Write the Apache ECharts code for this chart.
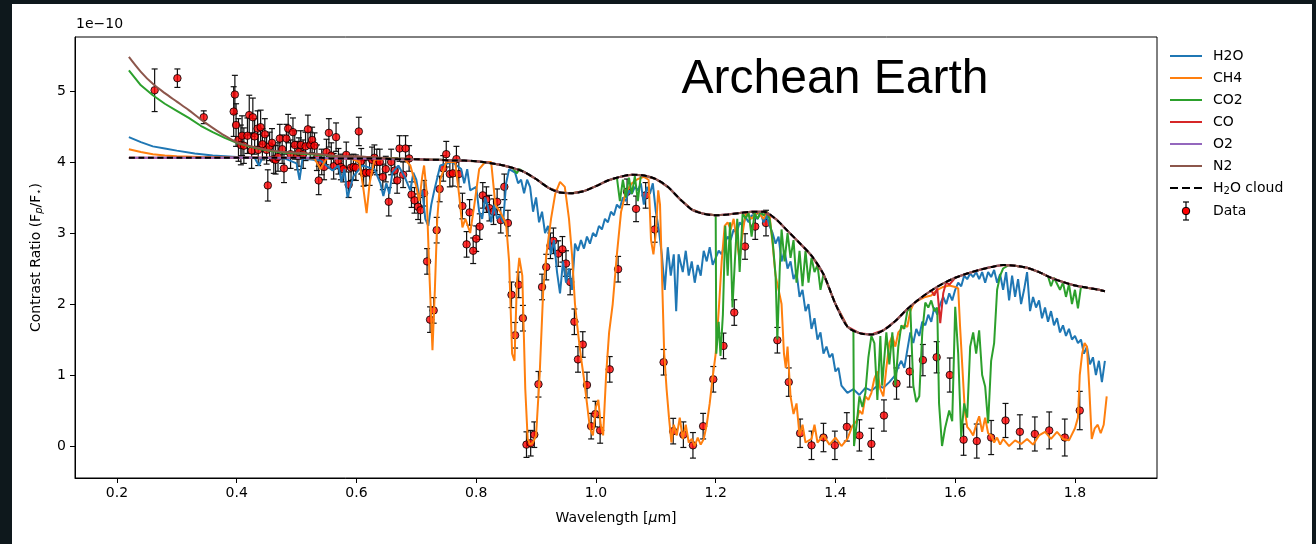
<!DOCTYPE html>
<html>
<head>
<meta charset="utf-8">
<script src="https://cdn.jsdelivr.net/npm/echarts@6.0.0/dist/echarts.min.js"></script>
<style>
  html, body { margin: 0; padding: 0; background: #0e181c; overflow: hidden; }
  #paper { position: absolute; left: 12px; top: 4px; width: 1300px; height: 540px; background: #fff; }
  #main { position: absolute; left: 0; top: 0; width: 1316px; height: 544px; }
</style>
</head>
<body>
<div id="paper"></div>
<div id="main"></div>
<script>
// values in units of 1e-10, wavelength in micron
const xTicks = [0.2, 0.4, 0.6, 0.8, 1.0, 1.2, 1.4, 1.6, 1.8];
const yTicks = [0, 1, 2, 3, 4, 5];

// smooth continuum grid (cloud, O2, N2)
const contWl = [0.22,0.24,0.26,0.28,0.30,0.32,0.34,0.36,0.38,0.40,
  0.42,0.44,0.46,0.48,0.50,0.52,0.54,0.56,0.58,0.60,0.62,0.64,0.66,0.68,0.70,
  0.72,0.74,0.76,0.78,0.80,0.82,0.84,0.86,0.88,0.90,0.92,0.94,0.96,0.98,1.00,
  1.02,1.04,1.06,1.08,1.10,1.12,1.14,1.16,1.18,1.20,1.22,1.24,1.26,1.28,1.30,
  1.32,1.34,1.36,1.38,1.40,1.42,1.44,1.46,1.48,1.50,1.52,1.54,1.56,1.58,1.60,
  1.62,1.64,1.66,1.68,1.70,1.72,1.74,1.76,1.78,1.80,1.82,1.84,1.85];

const cloudVal = [4.06,4.06,4.06,4.06,4.06,4.06,4.06,4.06,4.06,4.06,
  4.06,4.06,4.06,4.06,4.06,4.06,4.06,4.05,4.05,4.05,4.05,4.05,4.04,4.04,4.04,
  4.03,4.03,4.02,4.02,4.01,3.99,3.96,3.92,3.86,3.76,3.64,3.57,3.56,3.59,3.66,
  3.74,3.79,3.82,3.81,3.76,3.65,3.48,3.33,3.27,3.25,3.26,3.28,3.30,3.30,3.20,
  3.03,2.86,2.68,2.42,2.00,1.68,1.59,1.57,1.63,1.76,1.93,2.07,2.19,2.29,2.37,
  2.43,2.48,2.52,2.55,2.54,2.51,2.45,2.37,2.31,2.26,2.23,2.20,2.18];

const o2Val = [4.06,4.06,4.06,4.06,4.06,4.06,4.06,4.06,4.06,4.06,
  4.06,4.06,4.06,4.06,4.06,4.06,4.06,4.05,4.05,4.05,4.05,4.05,4.04,4.04,4.04,
  4.03,4.03,4.02,4.02,4.01,3.99,3.96,3.92,3.86,3.76,3.64,3.57,3.56,3.59,3.66,
  3.74,3.79,3.82,3.81,3.76,3.65,3.48,3.33,3.27,3.25,3.26,3.28,3.30,3.30,3.20,
  3.03,2.86,2.68,2.42,2.00,1.68,1.59,1.57,1.63,1.76,1.93,2.07,2.19,2.29,2.37,
  2.43,2.48,2.52,2.55,2.54,2.51,2.45,2.37,2.31,2.26,2.23,2.20,2.18];

const n2Val = [5.48,5.27,5.10,4.97,4.85,4.73,4.60,4.48,4.37,4.28,
  4.23,4.19,4.16,4.14,4.13,4.12,4.11,4.09,4.08,4.08,4.07,4.06,4.05,4.05,4.04,
  4.03,4.03,4.02,4.02,4.01,3.99,3.96,3.92,3.86,3.76,3.64,3.57,3.56,3.59,3.66,
  3.74,3.79,3.82,3.81,3.76,3.65,3.48,3.33,3.27,3.25,3.26,3.28,3.30,3.30,3.20,
  3.03,2.86,2.68,2.42,2.00,1.68,1.59,1.57,1.63,1.76,1.93,2.07,2.19,2.29,2.37,
  2.43,2.48,2.52,2.55,2.54,2.51,2.45,2.37,2.31,2.26,2.23,2.20,2.18];

const coWl = [0.22,0.30,0.40,0.50,0.60,0.70,0.80,0.82,0.84,0.86,0.88,0.90,0.92,0.94,0.96,0.98,1.00,
  1.02,1.04,1.06,1.08,1.10,1.12,1.14,1.16,1.18,1.20,1.22,1.24,1.26,1.28,1.30,
  1.32,1.34,1.36,1.38,1.40,1.42,1.44,1.46,1.48,1.50,1.52,1.54,1.56,1.565,1.57,1.575,1.58,1.585,1.59,1.60,
  1.62,1.64,1.66,1.68,1.70,1.72,1.74,1.76,1.78,1.80,1.82,1.84,1.85];
const coVal = [4.06,4.06,4.06,4.06,4.05,4.04,4.01,3.99,3.96,3.92,3.86,3.76,3.64,3.57,3.56,3.59,3.66,
  3.74,3.79,3.82,3.81,3.76,3.65,3.48,3.33,3.27,3.25,3.26,3.28,3.30,3.30,3.20,
  3.03,2.86,2.68,2.42,2.00,1.68,1.59,1.57,1.63,1.76,1.93,2.07,2.19,2.12,2.22,1.73,2.15,2.31,2.27,2.37,
  2.43,2.48,2.52,2.55,2.54,2.51,2.45,2.37,2.31,2.26,2.23,2.20,2.18];

const h2oWl = [0.22,0.24,0.26,0.28,0.30,0.33,0.36,0.40,0.43,0.437,0.443,0.48,0.50,0.505,0.51,0.54,0.55,0.56,0.57,0.575,
  0.58,0.585,0.59,0.595,0.61,0.63,0.64,0.645,0.65,0.655,0.66,0.67,0.68,0.69,0.695,0.70,0.705,0.71,0.715,0.72,
  0.725,0.73,0.74,0.76,0.775,0.78,0.785,0.79,0.80,0.805,0.81,0.815,0.82,0.825,0.83,0.835,0.84,0.845,0.85,0.855,
  0.865,0.87,0.875,0.88,0.885,0.89,0.895,0.90,0.905,0.91,0.915,0.92,0.925,0.93,0.935,0.94,0.945,0.95,0.955,0.96,
  0.965,0.97,0.975,0.98,0.985,0.99,0.995,1.00,1.005,1.01,1.015,1.02,1.025,1.03,1.035,1.04,1.045,1.05,1.055,1.06,
  1.065,1.07,1.075,1.08,1.085,1.09,1.095,1.10,1.105,1.11,1.115,1.12,1.125,1.13,1.134,1.138,1.145,1.15,1.155,1.16,
  1.165,1.17,1.175,1.18,1.185,1.19,1.195,1.20,1.205,1.21,1.215,1.22,1.225,1.23,1.235,1.24,1.245,1.25,1.255,1.26,
  1.27,1.275,1.28,1.285,1.29,1.295,1.30,1.305,1.31,1.315,1.32,1.325,1.33,1.335,1.34,1.345,1.35,1.355,1.36,1.365,
  1.37,1.375,1.38,1.385,1.39,1.395,1.40,1.405,1.41,1.415,1.42,1.43,1.44,1.45,1.46,1.47,1.48,1.49,1.50,1.505,
  1.51,1.515,1.52,1.525,1.53,1.535,1.54,1.545,1.55,1.555,1.56,1.565,1.57,1.575,1.58,1.585,1.59,1.595,1.60,1.605,
  1.61,1.615,1.62,1.625,1.63,1.635,1.64,1.645,1.65,1.655,1.66,1.665,1.67,1.675,1.68,1.685,1.69,1.695,1.70,1.705,
  1.71,1.715,1.72,1.725,1.73,1.735,1.74,1.745,1.75,1.755,1.76,1.765,1.77,1.775,1.78,1.785,1.79,1.795,1.80,1.805,
  1.81,1.815,1.82,1.825,1.83,1.835,1.84,1.845,1.85];
const h2oVal = [4.35,4.28,4.22,4.19,4.16,4.12,4.09,4.07,4.06,3.95,4.06,4.05,3.98,3.75,4.05,4.02,3.95,3.88,3.95,3.72,
  3.90,3.50,3.65,3.80,3.95,3.90,3.70,3.52,3.70,3.55,3.85,3.95,3.80,3.60,3.85,3.75,3.50,3.60,3.20,3.10,
  3.40,3.60,3.95,4.00,3.90,3.70,3.90,3.60,3.65,3.30,3.20,3.50,3.35,3.15,3.40,3.20,3.25,3.15,3.70,3.90,
  3.85,3.70,3.75,3.56,3.75,3.65,3.30,3.50,3.15,3.30,3.00,3.10,2.70,2.90,2.45,2.15,2.60,2.30,2.50,2.20,
  2.85,2.75,2.90,2.78,2.95,2.85,3.00,2.95,3.10,3.05,3.20,3.15,3.30,3.25,3.40,3.35,3.50,3.45,3.60,3.55,
  3.65,3.60,3.70,3.40,3.65,3.55,3.70,3.30,3.05,2.70,2.20,2.80,2.40,2.70,1.90,2.70,2.45,2.75,2.40,2.60,
  2.30,2.55,2.40,2.75,2.60,2.80,2.55,2.65,2.75,2.70,2.85,2.95,2.90,3.05,3.00,3.15,3.10,3.22,3.15,3.25,
  3.20,3.28,3.15,3.25,3.10,3.00,2.85,2.95,2.60,2.75,2.50,2.60,2.35,2.45,2.10,2.20,1.90,2.00,1.65,1.80,
  1.50,1.60,1.30,1.40,1.25,1.30,1.05,1.10,0.85,0.80,0.75,0.80,0.72,0.82,0.78,0.85,0.82,0.90,1.00,1.12,
  1.20,1.10,1.35,1.60,1.45,1.65,1.55,1.75,1.70,1.85,1.75,1.95,1.85,2.00,2.10,2.00,2.15,2.05,2.20,2.30,
  2.25,2.40,2.35,2.43,2.38,2.45,2.35,2.45,2.30,2.45,2.38,2.48,2.30,2.42,2.20,2.45,2.05,2.40,2.10,2.35,
  2.00,2.20,2.45,1.90,2.10,1.95,2.05,1.80,1.95,1.75,1.90,1.70,1.80,1.60,1.70,1.55,1.65,1.50,1.55,1.45,
  1.50,1.30,1.40,1.15,1.25,1.00,1.20,0.90,1.20];

const ch4Wl = [0.22,0.24,0.26,0.28,0.30,0.34,0.40,0.50,0.53,0.54,0.55,0.59,0.605,0.612,0.617,0.622,0.63,0.66,0.68,0.69,
  0.70,0.705,0.71,0.713,0.717,0.722,0.727,0.731,0.735,0.74,0.75,0.765,0.772,0.777,0.782,0.79,0.797,0.805,0.815,0.825,
  0.832,0.84,0.85,0.855,0.86,0.864,0.868,0.872,0.877,0.882,0.886,0.89,0.895,0.90,0.906,0.912,0.917,0.925,0.932,0.94,
  0.948,0.955,0.96,0.965,0.97,0.975,0.98,0.985,0.99,0.995,1.00,1.004,1.008,1.012,1.017,1.022,1.028,1.035,1.042,1.05,
  1.06,1.07,1.08,1.088,1.092,1.096,1.10,1.104,1.107,1.11,1.114,1.118,1.122,1.126,1.13,1.135,1.14,1.145,1.15,1.155,
  1.16,1.165,1.17,1.175,1.18,1.185,1.19,1.195,1.20,1.205,1.21,1.215,1.22,1.225,1.23,1.235,1.24,1.245,1.25,1.26,
  1.27,1.28,1.285,1.29,1.295,1.30,1.305,1.31,1.314,1.317,1.32,1.325,1.33,1.335,1.34,1.345,1.35,1.36,1.365,1.37,
  1.38,1.39,1.40,1.41,1.42,1.428,1.435,1.44,1.445,1.45,1.455,1.46,1.465,1.47,1.475,1.48,1.485,1.49,1.495,1.50,
  1.505,1.51,1.515,1.52,1.525,1.53,1.54,1.55,1.56,1.57,1.58,1.59,1.60,1.605,1.608,1.612,1.616,1.62,1.625,1.63,
  1.635,1.64,1.645,1.65,1.655,1.66,1.665,1.67,1.675,1.68,1.69,1.70,1.71,1.72,1.73,1.74,1.75,1.76,1.77,1.78,
  1.79,1.80,1.805,1.808,1.812,1.816,1.82,1.824,1.828,1.833,1.838,1.843,1.848,1.853];
const ch4Val = [4.18,4.14,4.11,4.09,4.08,4.07,4.06,4.06,4.05,3.90,4.05,4.05,4.00,3.60,3.28,3.70,4.03,4.05,4.04,3.95,
  3.65,3.45,3.80,3.95,3.60,2.40,1.35,2.20,3.20,3.75,4.00,4.00,3.50,3.08,3.20,3.00,3.40,3.90,4.00,4.00,
  3.40,3.30,3.13,2.60,1.30,1.20,2.30,2.65,2.40,0.80,0.10,0.02,0.05,0.15,1.00,2.20,2.68,3.20,3.55,3.72,
  3.65,3.20,2.70,2.00,1.60,1.25,0.95,0.60,0.25,0.15,0.55,0.65,0.30,0.15,1.00,1.60,2.00,2.70,3.30,3.58,
  3.70,3.76,3.79,3.75,2.90,2.70,3.00,3.60,3.40,2.50,1.30,0.80,0.40,0.05,0.30,0.15,0.40,0.10,0.30,0.05,
  0.10,0.00,0.12,0.02,0.10,0.30,0.60,0.97,1.30,1.90,2.60,3.10,3.15,3.05,3.20,2.90,2.62,3.00,3.28,3.20,
  3.30,3.20,3.30,3.25,2.85,2.40,2.20,2.00,1.30,1.10,1.40,0.70,0.45,0.60,0.15,0.30,0.05,0.10,0.30,0.05,
  0.15,0.02,0.12,0.00,0.10,0.28,0.35,0.50,0.45,0.70,0.65,0.75,0.95,1.05,0.80,0.70,1.10,1.45,1.55,1.40,
  1.60,1.65,1.70,1.68,1.90,2.00,2.06,2.10,2.12,2.20,2.24,2.26,2.24,2.22,1.70,1.10,0.50,0.27,0.22,0.15,
  0.30,0.42,0.20,0.40,0.18,0.15,0.05,0.12,0.02,0.10,0.00,0.08,0.03,0.10,0.02,0.15,0.20,0.10,0.20,0.10,
  0.08,0.25,0.40,1.00,1.30,1.45,1.40,0.80,0.10,0.25,0.30,0.18,0.30,0.70];

const co2Wl = [0.22,0.24,0.26,0.28,0.30,0.32,0.34,0.36,0.38,0.40,0.42,0.44,0.46,0.48,0.50,0.54,0.58,0.62,0.66,0.70,
  0.74,0.80,0.84,0.86,0.868,0.872,0.88,0.90,0.92,0.94,0.96,0.98,1.00,1.02,1.035,1.04,1.045,1.05,1.055,1.06,
  1.065,1.07,1.075,1.08,1.10,1.12,1.14,1.16,1.18,1.20,1.201,1.205,1.208,1.212,1.216,1.22,1.224,1.228,1.232,1.236,
  1.24,1.245,1.25,1.255,1.26,1.265,1.27,1.275,1.28,1.285,1.29,1.295,1.30,1.303,1.307,1.31,1.315,1.32,1.325,1.33,
  1.335,1.34,1.345,1.35,1.355,1.36,1.365,1.37,1.375,1.38,1.40,1.42,1.43,1.431,1.436,1.44,1.445,1.45,1.455,1.46,
  1.465,1.47,1.475,1.478,1.485,1.49,1.495,1.50,1.505,1.51,1.515,1.52,1.525,1.53,1.535,1.54,1.545,1.55,1.555,1.56,
  1.565,1.57,1.573,1.578,1.583,1.59,1.595,1.60,1.605,1.61,1.615,1.62,1.625,1.63,1.635,1.64,1.645,1.65,1.655,1.66,
  1.665,1.67,1.675,1.68,1.69,1.70,1.72,1.74,1.755,1.76,1.765,1.775,1.78,1.785,1.79,1.795,1.80,1.805,1.81,1.82,
  1.84,1.85];
const co2Val = [5.29,5.08,4.94,4.82,4.72,4.62,4.51,4.42,4.34,4.27,4.22,4.18,4.15,4.13,4.12,4.10,4.07,4.06,4.05,4.04,
  4.03,4.01,3.96,3.92,3.84,3.90,3.86,3.76,3.64,3.57,3.56,3.59,3.66,3.74,3.78,3.45,3.75,3.50,3.78,3.55,
  3.80,3.45,3.81,3.81,3.76,3.65,3.48,3.33,3.27,3.25,1.30,1.75,1.27,1.85,3.10,2.40,3.15,1.95,2.60,3.20,
  2.45,3.28,3.20,3.29,2.95,3.28,3.20,3.30,3.25,3.30,3.20,2.90,2.40,1.50,2.50,3.05,2.60,3.00,2.65,2.90,
  2.30,2.75,2.25,2.75,2.30,2.65,2.45,2.55,2.20,2.42,2.00,1.68,1.62,0.00,0.35,0.70,0.55,0.75,1.25,1.55,
  1.45,0.65,1.55,0.85,1.60,1.15,1.60,0.85,1.40,1.70,1.65,1.90,1.95,0.85,0.62,0.70,1.60,2.02,1.95,2.05,
  1.90,1.95,0.60,0.00,0.25,0.50,0.35,1.96,1.30,0.13,0.60,0.40,1.40,1.60,1.30,1.63,1.00,0.84,0.32,1.20,
  1.45,2.20,2.40,2.50,2.55,2.54,2.51,2.45,2.39,2.25,2.37,2.20,2.30,2.10,2.28,2.00,2.20,1.94,2.24,2.23,
  2.20,2.18];

// observed points with 1-sigma errors
const dataWl = [0.263,0.301,0.345,0.395,0.397,0.399,0.403,0.407,0.409,0.412,0.418,0.421,0.425,0.427,0.430,0.435,0.436,0.440,0.443,0.447,
  0.450,0.452,0.455,0.459,0.462,0.465,0.469,0.472,0.476,0.479,0.483,0.486,0.490,0.494,0.497,0.501,0.504,0.507,0.511,0.515,
  0.519,0.523,0.526,0.530,0.534,0.537,0.542,0.546,0.550,0.554,0.558,0.562,0.566,0.570,0.574,0.578,0.583,0.587,0.591,0.595,
  0.599,0.604,0.608,0.612,0.616,0.622,0.626,0.630,0.634,0.639,0.644,0.649,0.654,0.658,0.664,0.668,0.672,0.678,0.682,0.688,
  0.692,0.697,0.703,0.707,0.713,0.718,0.723,0.729,0.734,0.739,0.745,0.750,0.756,0.761,0.767,0.771,0.777,0.784,0.789,0.795,
  0.800,0.806,0.811,0.817,0.822,0.829,0.835,0.841,0.847,0.853,0.859,0.865,0.871,0.878,0.884,0.891,0.897,0.904,0.910,0.917,
  0.924,0.929,0.937,0.944,0.950,0.957,0.964,0.970,0.978,0.985,0.992,0.999,1.007,1.023,1.037,1.052,1.067,1.083,1.098,1.113,
  1.129,1.146,1.162,1.179,1.196,1.213,1.231,1.249,1.266,1.284,1.303,1.322,1.341,1.360,1.380,1.399,1.419,1.440,1.460,1.481,
  1.502,1.524,1.546,1.569,1.591,1.614,1.636,1.660,1.684,1.708,1.733,1.757,1.783,1.808];
const dataVal = [5.01,5.18,4.63,4.71,4.95,4.52,4.31,4.24,4.37,4.23,4.37,4.66,4.16,4.63,4.36,4.47,4.17,4.49,4.25,4.39,
  4.17,3.67,4.22,4.27,4.04,4.03,4.07,4.33,4.18,3.91,4.33,4.47,4.11,4.42,4.24,4.09,4.14,4.24,4.11,4.22,
  4.46,4.24,4.31,4.23,4.06,3.74,4.00,3.93,4.14,4.41,4.09,3.94,4.35,4.01,3.93,3.90,4.10,3.68,3.92,3.93,
  3.92,4.43,4.01,3.84,3.85,3.85,4.03,4.06,4.00,4.00,3.79,3.90,3.44,4.00,3.88,3.74,4.19,3.82,4.19,4.05,
  3.54,3.46,3.37,3.32,3.56,2.60,1.78,1.91,3.04,3.62,3.91,4.11,3.83,3.84,4.04,3.83,3.38,2.84,3.29,2.75,
  2.92,3.09,3.53,3.47,3.35,3.30,3.44,3.18,3.65,3.14,2.13,1.56,2.27,1.80,0.02,0.04,0.16,0.87,2.24,2.52,
  2.82,2.89,2.71,2.77,2.57,2.31,1.75,1.22,1.43,0.86,0.28,0.45,0.22,1.08,2.49,3.58,3.34,3.53,3.05,1.18,
  0.21,0.16,0.01,0.28,0.94,1.41,1.88,2.81,3.09,3.14,1.49,0.90,0.18,0.01,0.12,0.01,0.27,0.15,0.03,0.43,
  0.88,1.05,1.21,1.25,1.00,0.09,0.07,0.12,0.36,0.20,0.17,0.22,0.12,0.50];
const dataErr = [0.30,0.13,0.09,0.35,0.27,0.30,0.30,0.28,0.28,0.25,0.25,0.28,0.25,0.27,0.25,0.25,0.22,0.24,0.22,0.22,
  0.20,0.22,0.20,0.20,0.20,0.20,0.20,0.20,0.20,0.20,0.20,0.20,0.20,0.20,0.20,0.20,0.20,0.20,0.20,0.20,
  0.20,0.18,0.18,0.18,0.18,0.20,0.18,0.18,0.18,0.20,0.18,0.18,0.20,0.18,0.18,0.18,0.18,0.18,0.18,0.18,
  0.18,0.20,0.18,0.18,0.18,0.18,0.18,0.18,0.18,0.18,0.18,0.18,0.20,0.18,0.18,0.18,0.18,0.18,0.18,0.18,
  0.18,0.18,0.18,0.18,0.18,0.18,0.18,0.18,0.18,0.18,0.18,0.18,0.18,0.18,0.18,0.18,0.18,0.18,0.18,0.18,
  0.18,0.18,0.18,0.18,0.18,0.18,0.18,0.18,0.18,0.18,0.18,0.18,0.18,0.18,0.18,0.18,0.18,0.18,0.18,0.18,
  0.18,0.18,0.18,0.18,0.18,0.18,0.18,0.18,0.18,0.18,0.18,0.18,0.18,0.18,0.18,0.18,0.18,0.18,0.18,0.18,
  0.18,0.18,0.18,0.18,0.18,0.18,0.18,0.18,0.18,0.18,0.18,0.20,0.20,0.20,0.20,0.20,0.20,0.22,0.22,0.22,
  0.22,0.22,0.22,0.22,0.24,0.22,0.24,0.24,0.24,0.24,0.24,0.26,0.26,0.27];

const FONT = '"DejaVu Sans", sans-serif';
const LINE_ICON = 'path://M0,0 L32,0 L32,2 L0,2 Z';
const DASH_ICON = 'path://M0,0 L8,0 L8,2 L0,2 Z M12,0 L20,0 L20,2 L12,2 Z M24,0 L32,0 L32,2 L24,2 Z';

function pairs(wl, v) {
  return wl.map((w, i) => [w, v[i]]);
}

function spectrum(name, wl, v, color, extra) {
  return Object.assign({
    name: name,
    type: 'line',
    data: pairs(wl, v),
    symbol: 'none',
    showSymbol: false,
    lineStyle: { color: color, width: 2 },
    itemStyle: { color: color },
    animation: false,
    silent: true
  }, extra || {});
}

const chart = echarts.init(document.getElementById('main'), null, { renderer: 'canvas' });

chart.setOption({
  backgroundColor: 'transparent',
  animation: false,
  grid: {
    left: 75, top: 37, right: 159, bottom: 66,
    show: true, backgroundColor: '#fff', borderColor: '#000', borderWidth: 1
  },
  xAxis: {
    type: 'value', min: 0.13, max: 1.937,
    name: 'Wavelength [{it|μ}m]', nameLocation: 'middle', nameGap: 33,
    nameTextStyle: { fontFamily: FONT, fontSize: 14, color: '#000',
      rich: { it: { fontFamily: FONT, fontSize: 14, fontStyle: 'italic', color: '#000' } } },
    axisLine: { show: true, onZero: false, lineStyle: { color: '#000', width: 1 } },
    axisTick: { show: true, inside: false, length: 5, lineStyle: { color: '#000' }, customValues: xTicks },
    axisLabel: { fontFamily: FONT, fontSize: 14, color: '#000', margin: 8,
      customValues: xTicks, formatter: v => v.toFixed(1) },
    splitLine: { show: false }
  },
  yAxis: {
    type: 'value', min: -0.45, max: 5.76,
    name: 'Contrast Ratio (F{si|p}/F{s|⋆})', nameLocation: 'middle', nameGap: 31, nameRotate: 90,
    nameTextStyle: { fontFamily: FONT, fontSize: 14, color: '#000',
      rich: {
        si: { fontFamily: FONT, fontSize: 10, fontStyle: 'italic', color: '#000', padding: [5, 0, 0, 0] },
        s: { fontFamily: FONT, fontSize: 10, color: '#000', padding: [5, 0, 0, 0] }
      } },
    axisLine: { show: true, onZero: false, lineStyle: { color: '#000', width: 1 } },
    axisTick: { show: true, inside: false, length: 5, lineStyle: { color: '#000' }, customValues: yTicks },
    axisLabel: { fontFamily: FONT, fontSize: 14, color: '#000', margin: 9, customValues: yTicks },
    splitLine: { show: false }
  },
  legend: {
    orient: 'vertical', left: 1170, top: 49, padding: 0,
    itemWidth: 32, itemHeight: 14, itemGap: 8,
    data: [
      { name: 'H2O', icon: LINE_ICON },
      { name: 'CH4', icon: LINE_ICON },
      { name: 'CO2', icon: LINE_ICON },
      { name: 'CO', icon: LINE_ICON },
      { name: 'O2', icon: LINE_ICON },
      { name: 'N2', icon: LINE_ICON },
      { name: 'H2O cloud', icon: DASH_ICON }
    ],
    formatter: n => n === 'H2O cloud' ? 'H{s|2}O cloud' : n,
    textStyle: { fontFamily: FONT, fontSize: 14, color: '#000', padding: [0, 0, 0, 6],
      rich: { s: { fontFamily: FONT, fontSize: 10, color: '#000', padding: [6, 0, 0, 0] } } },
    selectedMode: false
  },
  graphic: [
    { type: 'text', left: 76, top: 17,
      style: { text: '1e\u221210', font: '14px "DejaVu Sans"', fill: '#000' } },
    { type: 'text', x: 835, y: 80,
      style: { text: 'Archean Earth', font: '48px "Liberation Sans"', fill: '#000',
        align: 'center', verticalAlign: 'middle' } },
    // "Data" legend entry: error bar with marker
    { type: 'line', shape: { x1: 1186, y1: 202, x2: 1186, y2: 220 }, style: { stroke: '#000', lineWidth: 1.2 } },
    { type: 'line', shape: { x1: 1183, y1: 202, x2: 1189, y2: 202 }, style: { stroke: '#000', lineWidth: 1.2 } },
    { type: 'line', shape: { x1: 1183, y1: 220, x2: 1189, y2: 220 }, style: { stroke: '#000', lineWidth: 1.2 } },
    { type: 'circle', shape: { cx: 1186, cy: 211, r: 3.75 }, style: { fill: '#ff0000', stroke: '#000', lineWidth: 1 } },
    { type: 'text', x: 1213, y: 211,
      style: { text: 'Data', font: '14px "DejaVu Sans"', fill: '#000', verticalAlign: 'middle' } }
  ],
  series: [
    spectrum('H2O', h2oWl, h2oVal, '#1f77b4'),
    spectrum('CH4', ch4Wl, ch4Val, '#ff7f0e'),
    spectrum('CO2', co2Wl, co2Val, '#2ca02c'),
    spectrum('CO', coWl, coVal, '#d62728'),
    spectrum('O2', contWl, o2Val, '#9467bd', { smooth: 0.3 }),
    spectrum('N2', contWl, n2Val, '#8c564b', { smooth: 0.3 }),
    spectrum('H2O cloud', contWl, cloudVal, '#000', {
      smooth: 0.3,
      lineStyle: { color: '#000', width: 2, type: [6, 3.5] }
    }),
    {
      name: 'errors',
      type: 'custom',
      silent: true,
      data: dataWl.map((w, i) => [w, dataVal[i], dataErr[i]]),
      encode: { x: 0, y: 1 },
      renderItem: function (params, api) {
        const x = api.value(0), y = api.value(1), e = api.value(2);
        const top = api.coord([x, y + e]);
        const bot = api.coord([x, y - e]);
        const st = { stroke: '#111', lineWidth: 1.2 };
        return {
          type: 'group',
          children: [
            { type: 'line', shape: { x1: top[0], y1: top[1], x2: bot[0], y2: bot[1] }, style: st },
            { type: 'line', shape: { x1: top[0] - 3, y1: top[1], x2: top[0] + 3, y2: top[1] }, style: st },
            { type: 'line', shape: { x1: bot[0] - 3, y1: bot[1], x2: bot[0] + 3, y2: bot[1] }, style: st }
          ]
        };
      }
    },
    {
      name: 'Data',
      type: 'scatter',
      data: pairs(dataWl, dataVal),
      symbol: 'circle',
      symbolSize: 7.5,
      itemStyle: { color: '#ff0000', borderColor: '#000', borderWidth: 1 },
      silent: true
    }
  ]
});
</script>
</body>
</html>
